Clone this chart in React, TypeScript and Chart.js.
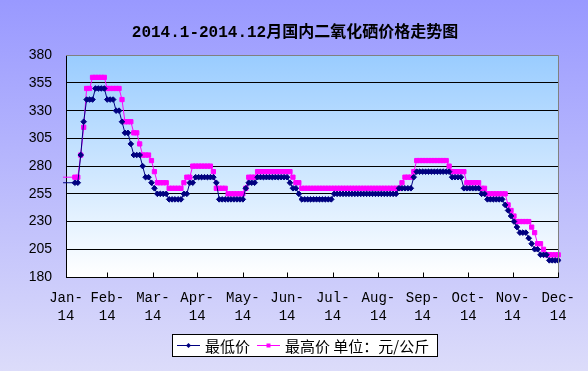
import React, { useEffect, useRef } from "react";
import { Chart, registerables } from "chart.js";

Chart.register(...registerables);

// ---- data ----
const TITLE = "2014.1-2014.12月国内二氧化硒价格走势图";
const SERIES_NAMES = ["最低价", "最高价 单位：元/公斤"];
const MONTH_LABELS = [
  "Jan-14", "Feb-14", "Mar-14", "Apr-14", "May-14", "Jun-14",
  "Jul-14", "Aug-14", "Sep-14", "Oct-14", "Nov-14", "Dec-14",
];
// day offset (from the axis start) of each month tick
const MONTH_TICK_DAYS = [0, 28, 59, 89, 120, 150, 181, 212, 242, 273, 303, 334];
const Y_MIN = 180;
const Y_MAX = 380;
const Y_STEP = 25;
// samples are taken every 2 days, starting 4 days before the axis start
const FIRST_SAMPLE_DAY = -4;
const SAMPLE_STEP_DAYS = 2;
// the first marker shown in the picture
const FIRST_MARKER_DAY = 6;

// 最低价 (yuan/kg)
const lowPrices: number[] = [
  265, 265, 265, 265, 265, 265, 265, 290, 320, 340, 340, 340,
  350, 350, 350, 350, 340, 340, 340, 330, 330, 320,
  310, 310, 300, 290, 290, 290, 280, 270, 270, 265,
  260, 255, 255, 255, 255, 250, 250, 250, 250, 250,
  255, 255, 265, 265, 270, 270, 270, 270, 270, 270,
  270, 265, 250, 250, 250, 250, 250, 250, 250, 250,
  250, 260, 265, 265, 265, 270, 270, 270, 270, 270,
  270, 270, 270, 270, 270, 270, 265, 260, 260, 255,
  250, 250, 250, 250, 250, 250, 250, 250, 250, 250,
  250, 255, 255, 255, 255, 255, 255, 255, 255, 255,
  255, 255, 255, 255, 255, 255, 255, 255, 255, 255,
  255, 255, 255, 260, 260, 260, 260, 260, 270, 275,
  275, 275, 275, 275, 275, 275, 275, 275, 275, 275,
  275, 270, 270, 270, 270, 260, 260, 260, 260, 260,
  260, 255, 255, 250, 250, 250, 250, 250, 250, 245,
  240, 235, 230, 225, 220, 220, 220, 215, 210, 205,
  205, 200, 200, 200, 195, 195, 195, 195,
];

// 最高价 (yuan/kg)
const highPrices: number[] = [
  270, 270, 270, 270, 270, 270, 270, 290, 315, 350, 350, 360,
  360, 360, 360, 360, 350, 350, 350, 350, 350, 340,
  320, 320, 320, 310, 310, 300, 290, 290, 290, 285,
  275, 265, 265, 265, 265, 260, 260, 260, 260, 260,
  265, 270, 270, 280, 280, 280, 280, 280, 280, 280,
  275, 260, 260, 260, 260, 255, 255, 255, 255, 255,
  255, 260, 270, 270, 270, 275, 275, 275, 275, 275,
  275, 275, 275, 275, 275, 275, 275, 270, 265, 265,
  260, 260, 260, 260, 260, 260, 260, 260, 260, 260,
  260, 260, 260, 260, 260, 260, 260, 260, 260, 260,
  260, 260, 260, 260, 260, 260, 260, 260, 260, 260,
  260, 260, 260, 260, 265, 270, 270, 270, 275, 285,
  285, 285, 285, 285, 285, 285, 285, 285, 285, 285,
  280, 275, 275, 275, 275, 275, 265, 265, 265, 265,
  265, 260, 260, 255, 255, 255, 255, 255, 255, 255,
  245, 240, 235, 230, 230, 230, 230, 230, 225, 220,
  210, 210, 205, 200, 200, 200, 200, 200,
];

const LOW_COLOR = "#000080";
const HIGH_COLOR = "#FF00FF";

const toPoints = (vals: number[]) =>
  vals.map((v, i) => ({ x: FIRST_SAMPLE_DAY + i * SAMPLE_STEP_DAYS, y: v }));

const markerRadius = (r: number) => (c: any) =>
  c.raw && c.raw.x < FIRST_MARKER_DAY ? 0 : r;

const decorPlugin = {
  id: "decor",
  beforeDraw(chart: any) {
    const { ctx, width, height, chartArea } = chart;
    ctx.save();
    const bg = ctx.createLinearGradient(0, 0, 0, height);
    bg.addColorStop(0, "#9999FF");
    bg.addColorStop(1, "#DCDCFA");
    ctx.fillStyle = bg;
    ctx.fillRect(0, 0, width, height);
    const pg = ctx.createLinearGradient(0, chartArea.top, 0, chartArea.bottom);
    pg.addColorStop(0, "#99CCFF");
    pg.addColorStop(1, "#FFFFFF");
    ctx.fillStyle = pg;
    ctx.fillRect(chartArea.left, chartArea.top, chartArea.right - chartArea.left, chartArea.bottom - chartArea.top);
    ctx.restore();
  },
  afterDraw(chart: any) {
    const { ctx, chartArea } = chart;
    const xs = chart.scales.x;
    ctx.save();
    // gray top/right frame
    const t = Math.round(chartArea.top) + 0.5;
    const r = Math.round(chartArea.right) + 0.5;
    const b = Math.round(chartArea.bottom) + 0.5;
    ctx.strokeStyle = "#808080";
    ctx.lineWidth = 1;
    ctx.beginPath();
    ctx.moveTo(Math.round(chartArea.left), t);
    ctx.lineTo(r, t);
    ctx.lineTo(r, b);
    ctx.stroke();
    // inside tick marks on the category axis
    ctx.strokeStyle = "#000";
    ctx.beginPath();
    for (const d of MONTH_TICK_DAYS) {
      const px = Math.round(xs.getPixelForValue(d)) + 0.5;
      ctx.moveTo(px, b);
      ctx.lineTo(px, b - 5);
    }
    ctx.stroke();

    // legend
    const y = 345.5;
    const boxLeft = 172.5;
    const boxTop = 334.5;
    const boxH = 22;
    ctx.font = "15px 'Noto Sans CJK SC'";
    let x = 177;
    const items = chart.data.datasets.map((ds: any) => ds);
    const widths = items.map((ds: any) => ctx.measureText(ds.label).width);
    let total = x;
    items.forEach((_: any, i: number) => {
      total += 28 + widths[i] + (i < items.length - 1 ? 7 : 0);
    });
    const boxRight = Math.round(total + 8) + 0.5;
    ctx.fillStyle = "#FFFFFF";
    ctx.fillRect(boxLeft, boxTop, boxRight - boxLeft, boxH);
    ctx.strokeStyle = "#000";
    ctx.strokeRect(boxLeft, boxTop, boxRight - boxLeft, boxH);
    items.forEach((ds: any, i: number) => {
      ctx.strokeStyle = ds.borderColor;
      ctx.lineWidth = 1;
      ctx.beginPath();
      ctx.moveTo(x, y);
      ctx.lineTo(x + 23, y);
      ctx.stroke();
      const mx = x + 11.5;
      ctx.fillStyle = ds.borderColor;
      ctx.beginPath();
      if (ds.pointStyle === "rectRot") {
        ctx.moveTo(mx, y - 2.5);
        ctx.lineTo(mx + 2.5, y);
        ctx.lineTo(mx, y + 2.5);
        ctx.lineTo(mx - 2.5, y);
        ctx.closePath();
      } else {
        ctx.rect(mx - 2, y - 2, 4, 4);
      }
      ctx.fill();
      ctx.fillStyle = "#000";
      ctx.textBaseline = "middle";
      ctx.textAlign = "left";
      ctx.fillText(ds.label, x + 28, y + 0.5);
      x = x + 28 + widths[i] + 7;
    });
    ctx.restore();
  },
};

export default function App() {
  const ref = useRef<HTMLCanvasElement>(null);
  useEffect(() => {
    const chart = new Chart(ref.current!, {
      type: "line",
      data: {
        datasets: [
          {
            label: SERIES_NAMES[0],
            data: toPoints(lowPrices),
            borderColor: LOW_COLOR,
            backgroundColor: LOW_COLOR,
            borderWidth: 1,
            pointStyle: "rectRot",
            pointRadius: markerRadius(2.8),
            pointBorderWidth: 1,
            pointBackgroundColor: LOW_COLOR,
            pointBorderColor: LOW_COLOR,
            tension: 0,
            clip: { left: 3, right: 3, top: 0, bottom: 0 },
          } as any,
          {
            label: SERIES_NAMES[1],
            data: toPoints(highPrices),
            borderColor: HIGH_COLOR,
            backgroundColor: HIGH_COLOR,
            borderWidth: 1,
            pointStyle: "rect",
            pointRadius: markerRadius(3),
            pointBorderWidth: 1,
            pointBackgroundColor: HIGH_COLOR,
            pointBorderColor: HIGH_COLOR,
            tension: 0,
            clip: { left: 3, right: 3, top: 0, bottom: 0 },
          } as any,
        ],
      },
      options: {
        animation: false,
        responsive: false,
        devicePixelRatio: 1,
        layout: { padding: { left: 29, right: 27, top: 0, bottom: 0 } },
        plugins: {
          legend: { display: false },
          tooltip: { enabled: false },
          title: {
            display: true,
            text: TITLE,
            color: "#000",
            font: { family: "'Liberation Mono', 'Noto Sans CJK SC'", size: 16, weight: "bold", lineHeight: 1.2 },
            padding: { top: 23, bottom: 13 },
          },
        },
        scales: {
          x: {
            type: "linear",
            min: MONTH_TICK_DAYS[0],
            max: MONTH_TICK_DAYS[MONTH_TICK_DAYS.length - 1],
            afterBuildTicks: (scale: any) => {
              scale.ticks = MONTH_TICK_DAYS.map((v) => ({ value: v }));
            },
            afterFit: (scale: any) => {
              scale.height = 94;
            },
            grid: { drawOnChartArea: false, drawTicks: false },
            border: { display: true, color: "#000", width: 1 },
            ticks: {
              autoSkip: false,
              maxRotation: 0,
              minRotation: 0,
              padding: 13,
              color: "#000",
              font: { family: "'Liberation Mono'", size: 14, lineHeight: 1.25 },
              callback: (_v: any, i: number) => {
                const lab = MONTH_LABELS[i] || "";
                const k = lab.indexOf("-");
                return [lab.slice(0, k + 1), lab.slice(k + 1)];
              },
            },
          },
          y: {
            min: Y_MIN,
            max: Y_MAX,
            afterFit: (scale: any) => {
              scale.width = 37;
            },
            grid: {
              drawTicks: false,
              color: (c: any) => (c.tick && c.tick.value === Y_MAX ? "rgba(0,0,0,0)" : "#000"),
              lineWidth: 1,
            },
            border: { display: true, color: "#000", width: 1 },
            ticks: {
              stepSize: Y_STEP,
              padding: 14,
              color: "#000",
              font: { family: "'Liberation Sans'", size: 14 },
            },
          },
        },
      },
      plugins: [decorPlugin],
    } as any);
    return () => chart.destroy();
  }, []);
  return (
    <div style={{ position: "fixed", left: 0, top: 0, width: 588, height: 371 }}>
      <canvas ref={ref} width={588} height={371} style={{ display: "block", width: 588, height: 371 }} />
    </div>
  );
}
